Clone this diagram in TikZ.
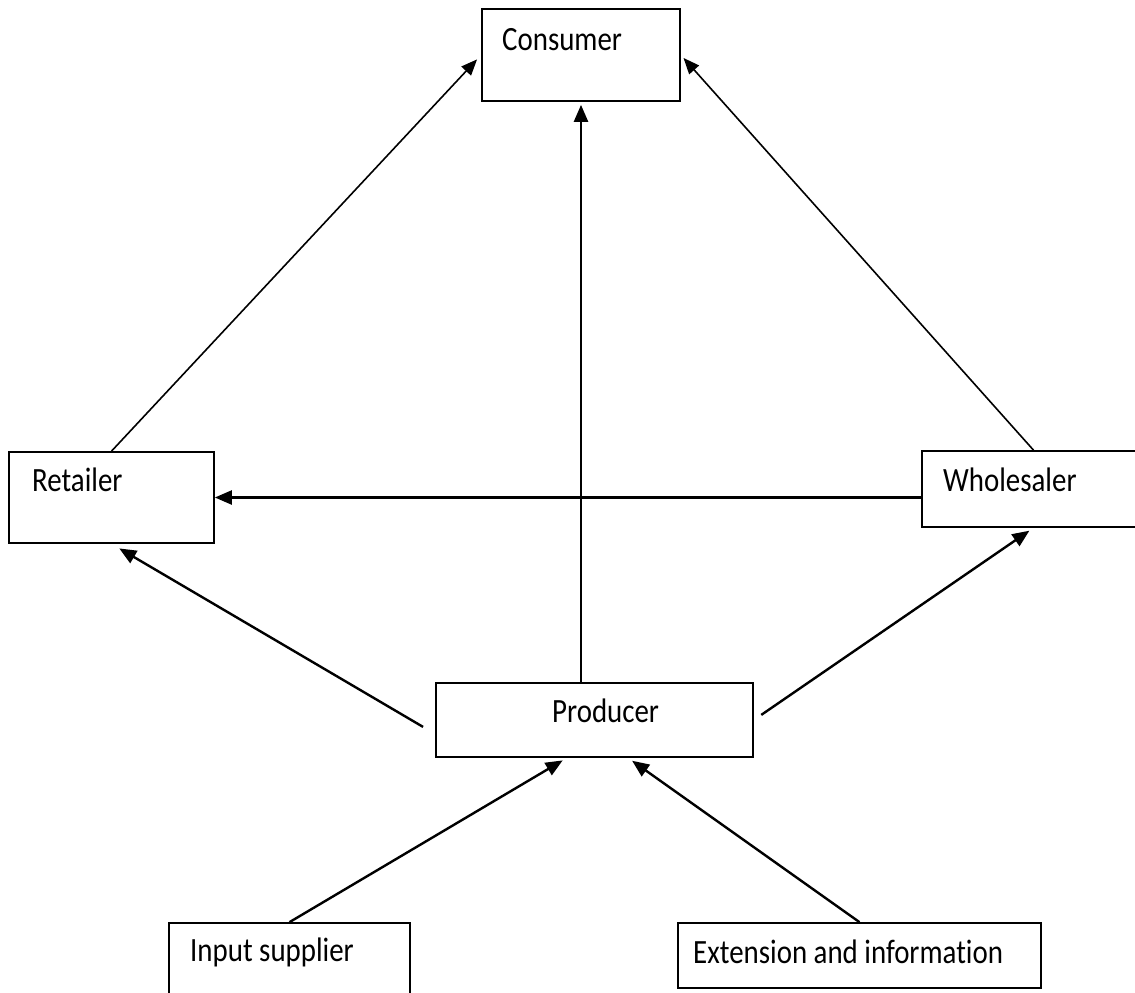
\documentclass[tikz,border=0pt]{standalone}
\usepackage{fontspec}
\setmainfont{Carlito}[FakeStretch=0.85,Ligatures=NoCommon]
\usepackage{xcolor}
\usepackage{tikz}
\usetikzlibrary{arrows.meta,positioning}
\definecolor{chainInk}{HTML}{000000}
\tikzset{
  chainbox/.style={
    rectangle,
    draw=chainInk,
    line width=1.7pt,
    inner sep=0pt
  },
  chainlabel/.style={
    anchor=base west,
    inner sep=0pt,
    text=chainInk,
    font=\fontsize{34}{40}\selectfont
  },
  arrow/.style={
    -{Triangle[length=17pt,width=14pt]},
    line width=2.4pt,
    draw=chainInk
  },
  thinArrow/.style={
    -{Triangle[length=16pt,width=13pt]},
    line width=1.6pt,
    draw=chainInk
  }
}

\begin{document}
\begin{tikzpicture}[x=1pt,y=-1pt]
  \useasboundingbox (0,0) rectangle (1135,993);
  \node[chainbox,minimum width=198pt,minimum height=92pt] (consumer) at (581,55) {};
  \node[chainbox,minimum width=205pt,minimum height=91pt] (retailer) at (111.5,497.5) {};
  \node[chainbox,minimum width=223pt,minimum height=76pt] (wholesaler) at (1033.5,489) {};
  \node[chainbox,minimum width=317pt,minimum height=74pt] (producer) at (594.5,720) {};
  \node[chainbox,minimum width=241pt,minimum height=82pt] (input) at (289.5,964) {};
  \node[chainbox,minimum width=363pt,minimum height=65pt] (extension) at (859.5,955.5) {};
  \node[chainlabel] (consumerLabel) at (502,50) {Consumer};
  \node[chainlabel] (retailerLabel) at (32,491) {Retailer};
  \node[chainlabel] (wholesalerLabel) at (943,491) {Wholesaler};
  \node[chainlabel] (producerLabel) at (552,722) {Producer};
  \node[chainlabel] (inputLabel) at (190,961) {Input supplier};
  \node[chainlabel] (extensionLabel) at (693,963) {Extension and information};
  \draw[thinArrow,shorten >=6pt] (retailer.north) -- (consumer.west);
  \draw[thinArrow,shorten >=4pt] (wholesaler.north) -- (consumer.east);
  \draw[arrow,shorten >=3pt] (consumer.south |- producer.north) -- (consumer.south);
  \draw[arrow] (wholesaler.west |- retailer.east) -- (retailer.east);
  \draw[arrow,shorten <=14pt,shorten >=9pt] ([yshift=-14pt]producer.west) -- (retailer.south);
  \draw[arrow,shorten <=9pt,shorten >=5pt] (producer.east) -- (wholesaler.south);
  \draw[arrow,shorten >=5pt] (input.north) -- ([xshift=-27.5pt]producer.south);
  \draw[arrow,shorten >=5pt] (extension.north) -- ([xshift=33.5pt]producer.south);
\end{tikzpicture}
\end{document}
